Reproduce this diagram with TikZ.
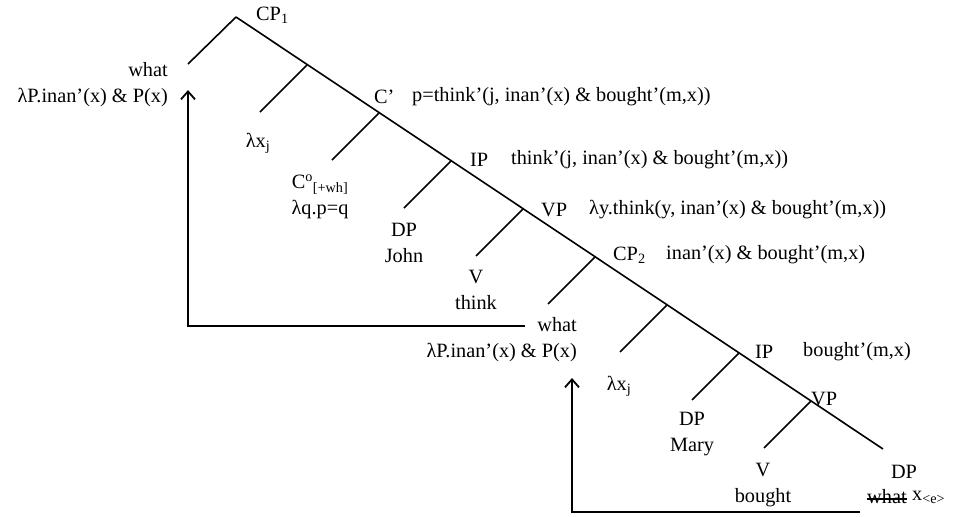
\documentclass[tikz,border=0pt]{standalone}
\usepackage{fontspec}
\setmainfont{Liberation Serif}
\usetikzlibrary{arrows.meta}

\tikzset{
  branch/.style={line width=1.6pt},
  move/.style={line width=1.8pt, -{Straight Barb[length=8pt,width=14pt]}},
  catlab/.style={inner sep=0pt, anchor=west},
  leaf/.style={inner sep=0pt, align=center},
}

\begin{document}
\begin{tikzpicture}[x=1pt, y=-1pt, font=\fontsize{20.3}{26}\selectfont]
  \useasboundingbox (0,0) rectangle (959,517);
  % spine of the tree
  \coordinate (cpa) at (236,17);
  \coordinate (cfirst) at (307,65);
  \coordinate (cbar) at (379,113);
  \coordinate (ipa) at (451,161);
  \coordinate (vpa) at (523,209);
  \coordinate (cpb) at (595,257);
  \coordinate (csecond) at (667,305);
  \coordinate (ipb) at (739,353);
  \coordinate (vpb) at (811,401);
  \coordinate (objend) at (883,449);
  % ends of the left branches
  \coordinate (whataend) at (188,64);
  \coordinate (lamaend) at (260,112);
  \coordinate (compend) at (332,160);
  \coordinate (johnend) at (404,208);
  \coordinate (thinkend) at (476,256);
  \coordinate (whatbend) at (548,304);
  \coordinate (lambend) at (620,352);
  \coordinate (maryend) at (692,400);
  \coordinate (boughtend) at (764,448);

  \draw[branch] (cpa) -- (objend);
  \draw[branch] (cpa) -- (whataend);
  \draw[branch] (cfirst) -- (lamaend);
  \draw[branch] (cbar) -- (compend);
  \draw[branch] (ipa) -- (johnend);
  \draw[branch] (vpa) -- (thinkend);
  \draw[branch] (cpb) -- (whatbend);
  \draw[branch] (csecond) -- (lambend);
  \draw[branch] (ipb) -- (maryend);
  \draw[branch] (vpb) -- (boughtend);

  % category labels and meanings
  \node[catlab] (cpalab) at (256,15) {CP\textsubscript{1}};
  \node[catlab] (cbarlab) at (374,97) {C’};
  \node[catlab] (cbarsem) at (412,97) {p=think’(j, inan’(x) \& bought’(m,x))};
  \node[catlab] (ipalab) at (470,160) {IP};
  \node[catlab] (ipasem) at (511,160) {think’(j, inan’(x) \& bought’(m,x))};
  \node[catlab] (vpalab) at (541,210) {VP};
  \node[catlab] (vpasem) at (589,210) {λy.think(y, inan’(x) \& bought’(m,x))};
  \node[catlab] (cpblab) at (613,255) {CP\textsubscript{2}};
  \node[catlab] (cpbsem) at (666,255) {inan’(x) \& bought’(m,x)};
  \node[catlab] (ipblab) at (755,352) {IP};
  \node[catlab] (ipbsem) at (803,352) {bought’(m,x)};
  \node[catlab] (vpblab) at (811,399) {VP};

  % leaves
  \node[leaf, align=right, anchor=east] (whata) at (168,85) {what\\λP.inan’(x) \& P(x)};
  \node[leaf] (lama) at (258,143) {λx\textsubscript{j}};
  \node[leaf] (comp) at (320,197) {C\textsuperscript{o}\textsubscript{[+wh]}\\λq.p=q};
  \node[leaf] (john) at (404,243) {DP\\John};
  \node[leaf] (think) at (476,290) {V\\think};
  \node[leaf, align=right, anchor=east] (whatb) at (577,340) {what\\λP.inan’(x) \& P(x)};
  \node[leaf] (lamb) at (619,386) {λx\textsubscript{j}};
  \node[leaf] (mary) at (692,434) {DP\\Mary};
  \node[leaf] (bought) at (763,485) {V\\bought};
  \node[leaf] (objcat) at (904,472) {DP};
  \node[catlab] (objwhat) at (867,497) {what};
  \node[catlab] (objtrace) at (912,497) {x\textsubscript{<e>}};
  \draw[line width=1.3pt] ([yshift=5pt]objwhat.base west) -- ([yshift=5pt]objwhat.base east);

  % movement arrows
  \coordinate (movafrom) at (525,326);
  \coordinate (movato) at (188,90);
  \coordinate (movbfrom) at (860,512);
  \coordinate (movbto) at (572,378);
  \draw[move] (movafrom) -| (movato);
  \draw[move] (movbfrom) -| (movbto);
\end{tikzpicture}
\end{document}
